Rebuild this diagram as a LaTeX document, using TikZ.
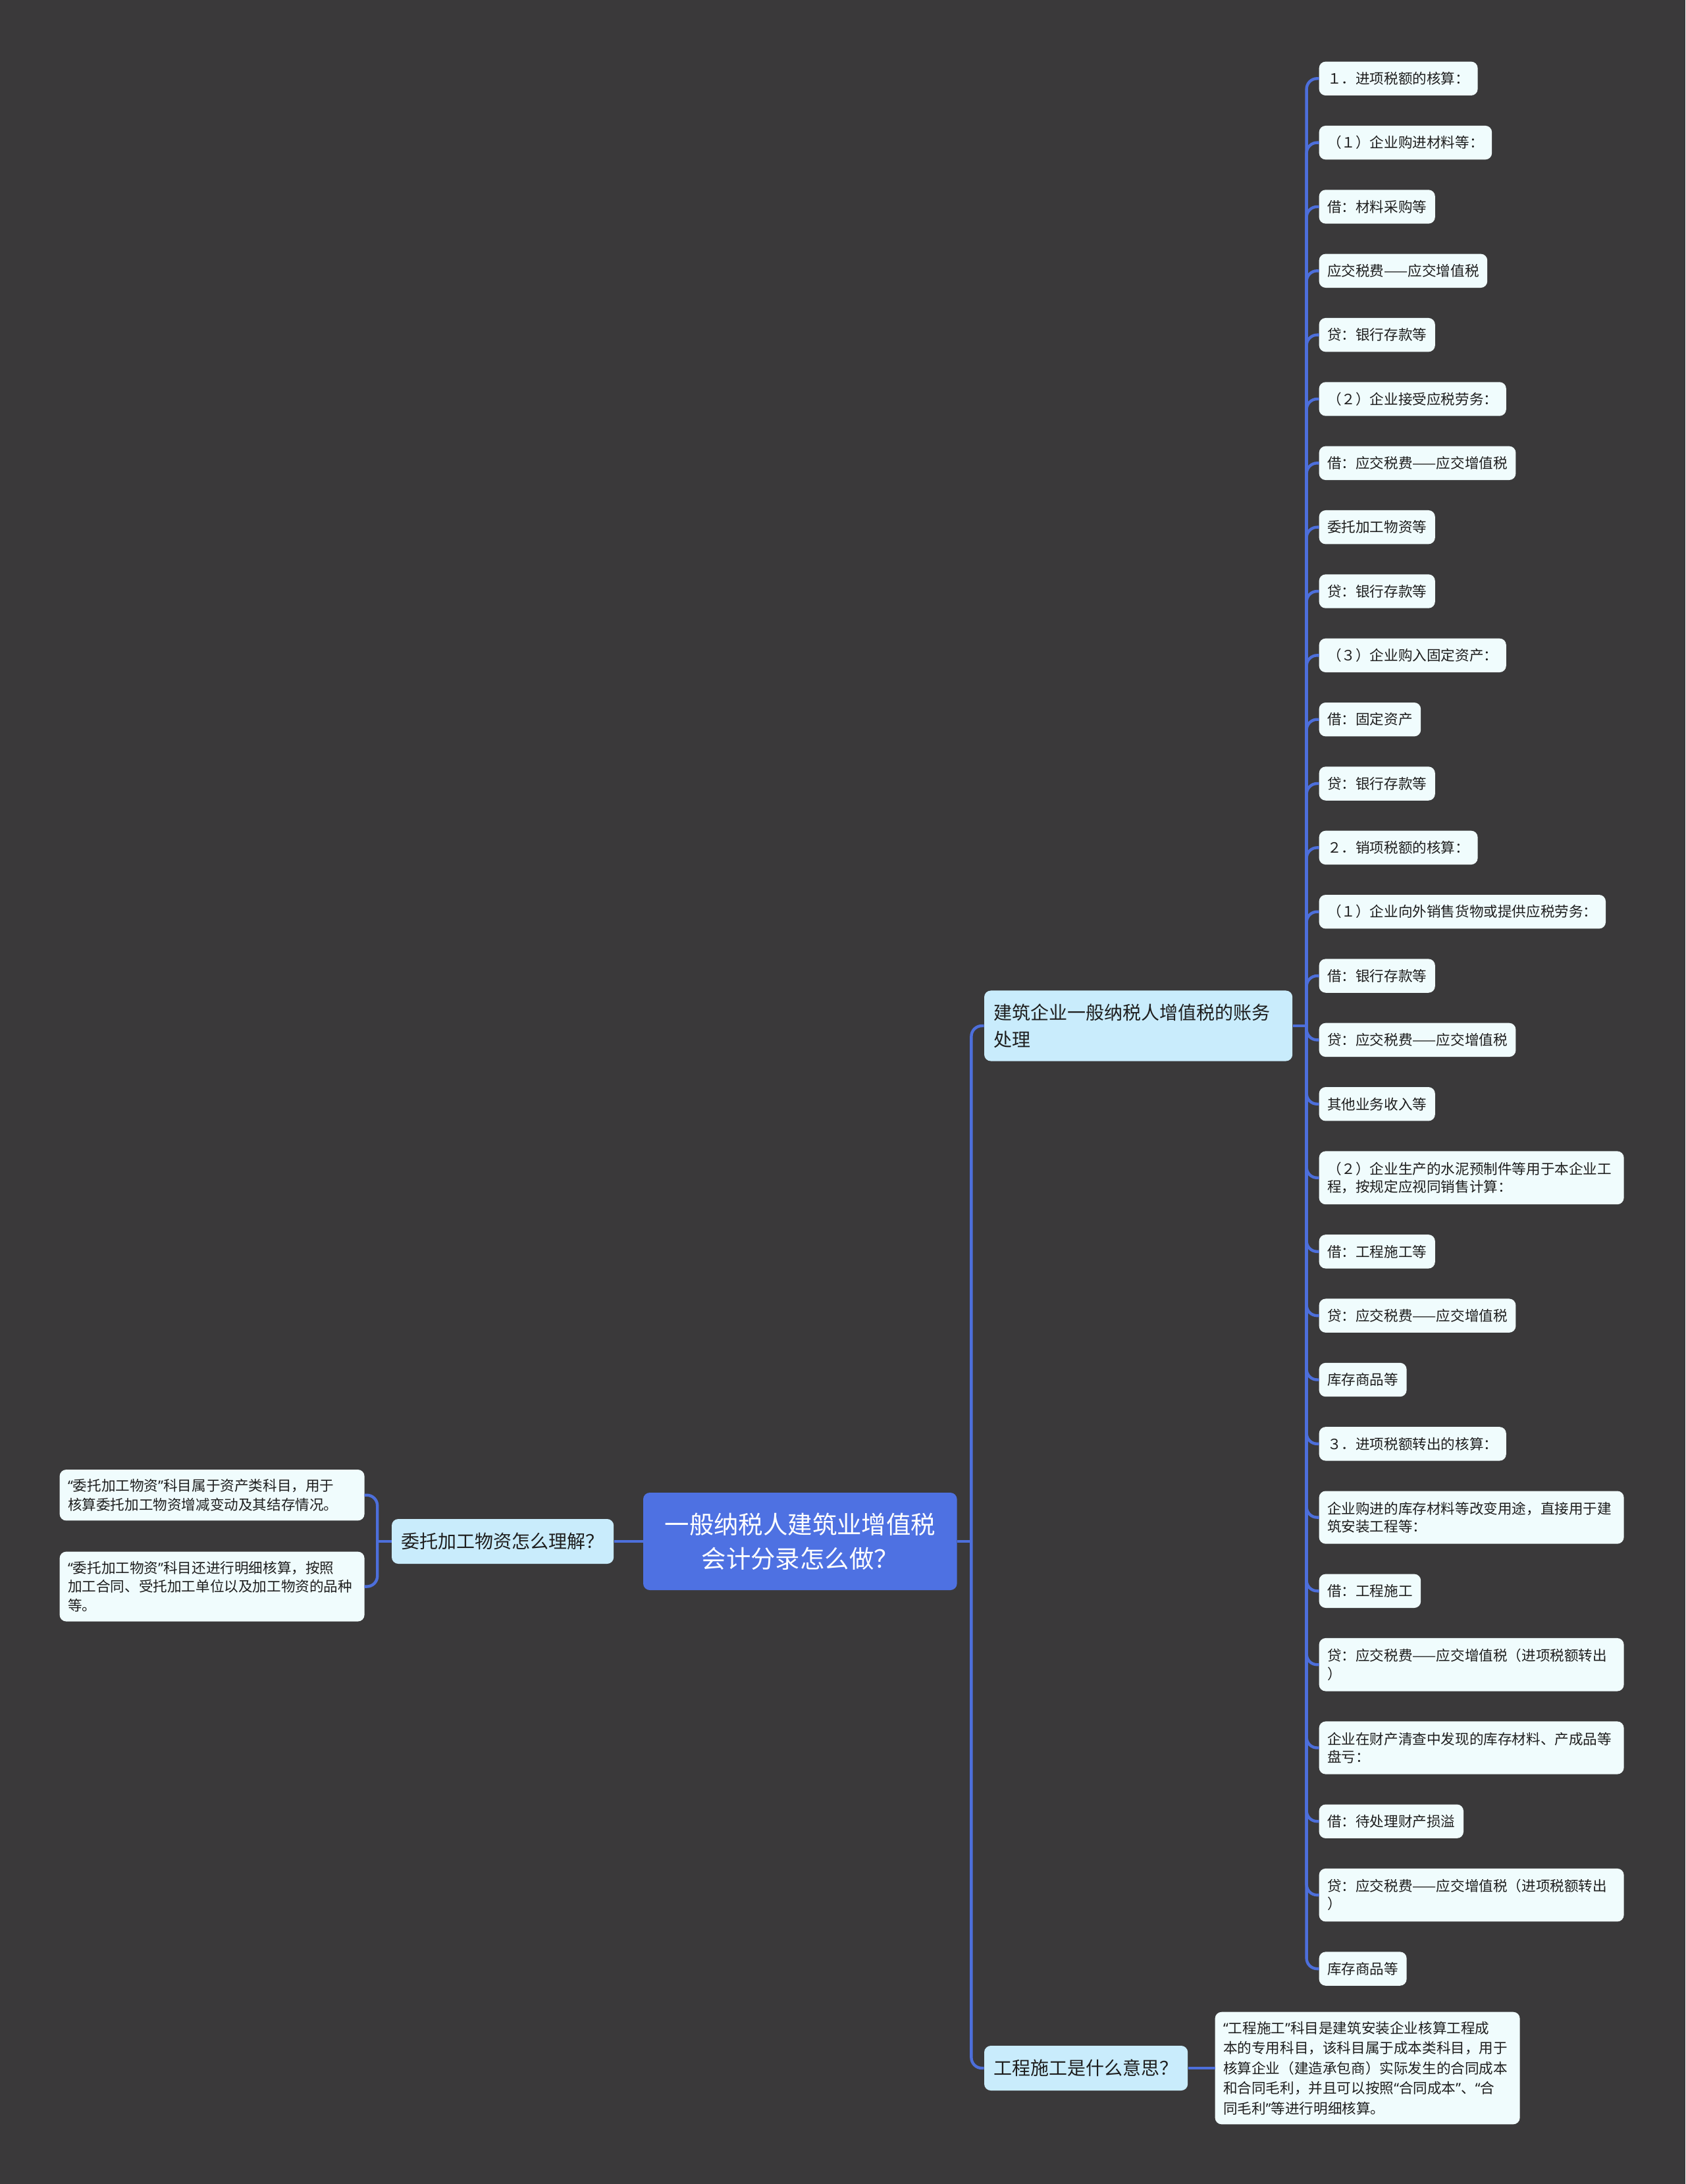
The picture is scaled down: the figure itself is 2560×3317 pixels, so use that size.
\documentclass[tikz,border=0pt]{standalone}
\usepackage{fontspec}
\setmainfont{Noto Sans CJK SC}
\newfontfamily\quotefont{Noto Sans}
\newcommand{\lqt}{{\quotefont “}}
\newcommand{\rqt}{{\quotefont ”}}
\usetikzlibrary{positioning}

\definecolor{bg_gray}{HTML}{3A393A}
\definecolor{root_blue}{HTML}{4E71E2}
\definecolor{topic_blue}{HTML}{C9ECFC}
\definecolor{leaf_white}{HTML}{F0FCFD}
\definecolor{line_blue}{HTML}{4D6FDB}
\definecolor{text_dark}{HTML}{1E1E1E}

\begin{document}
\begin{tikzpicture}[
        x=0.5pt, y=-0.5pt,
        root_node/.style={rectangle, rounded corners=5pt, fill=root_blue, text=white, align=center,
            font=\fontsize{18.7pt}{26pt}\selectfont, minimum width=238.3pt, minimum height=74pt, inner sep=2pt},
        topic_node/.style={rectangle, rounded corners=5pt, fill=topic_blue, text=text_dark, align=left,
            font=\fontsize{14pt}{20.5pt}\selectfont, inner xsep=7.3pt, inner ysep=10pt, minimum height=34pt},
        leaf_node/.style={rectangle, rounded corners=5pt, fill=leaf_white, text=text_dark, align=left, outer sep=0pt,
            font=\fontsize{10.8pt}{13.6pt}\selectfont, inner xsep=6.25pt, inner ysep=7.4pt, minimum height=25.7pt},
        wide_leaf/.style={leaf_node, text width=219pt, inner ysep=8.2pt},
        note_node/.style={wide_leaf, font=\fontsize{10.8pt}{14.3pt}\selectfont, inner ysep=7.2pt},
        next_below/.style={below right=22.97pt and 0pt of #1.south west},
        branch_line/.style={draw=line_blue, line width=2.2pt}
    ]
        \fill[bg_gray] (0,0) rectangle (2560,3317);
        \useasboundingbox (0,0) rectangle (2560,3317);

        % Koren
        \node[root_node] (root) at (1215.3,2341) {一般纳税人建筑业增值税\\会计分录怎么做？};

        % Levá větev
        \node[topic_node, left=22pt of root] (wtj) {委托加工物资怎么理解？};
        \node[note_node, above left=15.8pt and 20.5pt of wtj.west] (lb1)
            {\lqt 委托加工物资\rqt 科目属于资产类科目，用于\\核算委托加工物资增减变动及其结存情况。};
        \node[note_node, below left=7.8pt and 20.5pt of wtj.west] (lb2)
            {\lqt 委托加工物资\rqt 科目还进行明细核算，按照\\加工合同、受托加工单位以及加工物资的品种\\等。};

        % Pravá větev
        \node[topic_node, text width=219.5pt, anchor=west] (jz) at (1494.6,1558) {建筑企业一般纳税人增值税的账务\\处理};
        \node[topic_node, anchor=west] (gc) at (1494.6,3141) {工程施工是什么意思？};
        \node[note_node, font=\fontsize{10.8pt}{15.2pt}\selectfont, right=20.5pt of gc] (gcnote)
            {\lqt 工程施工\rqt 科目是建筑安装企业核算工程成\\本的专用科目，该科目属于成本类科目，用于\\核算企业（建造承包商）实际发生的合同成本\\和合同毛利，并且可以按照\lqt 合同成本\rqt 、\lqt 合\\同毛利\rqt 等进行明细核算。};

        % Listy
        \node[leaf_node, anchor=north west] (l1) at (2003.6,93.6) {１．进项税额的核算：};
        \node[leaf_node, next_below=l1] (l2) {（１）企业购进材料等：};
        \node[leaf_node, next_below=l2] (l3) {借：材料采购等};
        \node[leaf_node, next_below=l3] (l4) {应交税费——应交增值税};
        \node[leaf_node, next_below=l4] (l5) {贷：银行存款等};
        \node[leaf_node, next_below=l5] (l6) {（２）企业接受应税劳务：};
        \node[leaf_node, next_below=l6] (l7) {借：应交税费——应交增值税};
        \node[leaf_node, next_below=l7] (l8) {委托加工物资等};
        \node[leaf_node, next_below=l8] (l9) {贷：银行存款等};
        \node[leaf_node, next_below=l9] (l10) {（３）企业购入固定资产：};
        \node[leaf_node, next_below=l10] (l11) {借：固定资产};
        \node[leaf_node, next_below=l11] (l12) {贷：银行存款等};
        \node[leaf_node, next_below=l12] (l13) {２．销项税额的核算：};
        \node[leaf_node, next_below=l13] (l14) {（１）企业向外销售货物或提供应税劳务：};
        \node[leaf_node, next_below=l14] (l15) {借：银行存款等};
        \node[leaf_node, next_below=l15] (l16) {贷：应交税费——应交增值税};
        \node[leaf_node, next_below=l16] (l17) {其他业务收入等};
        \node[wide_leaf, next_below=l17] (l18) {（２）企业生产的水泥预制件等用于本企业工\\程，按规定应视同销售计算：};
        \node[leaf_node, next_below=l18] (l19) {借：工程施工等};
        \node[leaf_node, next_below=l19] (l20) {贷：应交税费——应交增值税};
        \node[leaf_node, next_below=l20] (l21) {库存商品等};
        \node[leaf_node, next_below=l21] (l22) {３．进项税额转出的核算：};
        \node[wide_leaf, next_below=l22] (l23) {企业购进的库存材料等改变用途，直接用于建\\筑安装工程等：};
        \node[leaf_node, next_below=l23] (l24) {借：工程施工};
        \node[wide_leaf, next_below=l24] (l25) {贷：应交税费——应交增值税（进项税额转出\\）};
        \node[wide_leaf, next_below=l25] (l26) {企业在财产清查中发现的库存材料、产成品等\\盘亏：};
        \node[leaf_node, next_below=l26] (l27) {借：待处理财产损溢};
        \node[wide_leaf, next_below=l27] (l28) {贷：应交税费——应交增值税（进项税额转出\\）};
        \node[leaf_node, next_below=l28] (l29) {库存商品等};

        % Spojnice
        \coordinate[right=10.7pt of root] (rspine);
        \coordinate[left=10.7pt of wtj] (wspine);
        \coordinate[right=10.5pt of jz] (jzspine);
        \draw[branch_line] (root.west) -- (wtj.east);
        \draw[branch_line] (root.east) -- (rspine);
        \foreach \n in {jz,gc}
            \draw[branch_line, rounded corners=8pt] (rspine) |- (\n.west);
        \draw[branch_line] (wtj.west) -- (wspine);
        \foreach \n in {lb1,lb2}
            \draw[branch_line, rounded corners=8pt] (wspine) |- (\n.east);
        \draw[branch_line] (jz.east) -- (jzspine);
        \foreach \n in {1,...,29}
            \draw[branch_line, rounded corners=8pt] (jzspine) |- (l\n.west);
        \draw[branch_line] (gc.east) -- (gcnote.west);
    \end{tikzpicture}
\end{document}
